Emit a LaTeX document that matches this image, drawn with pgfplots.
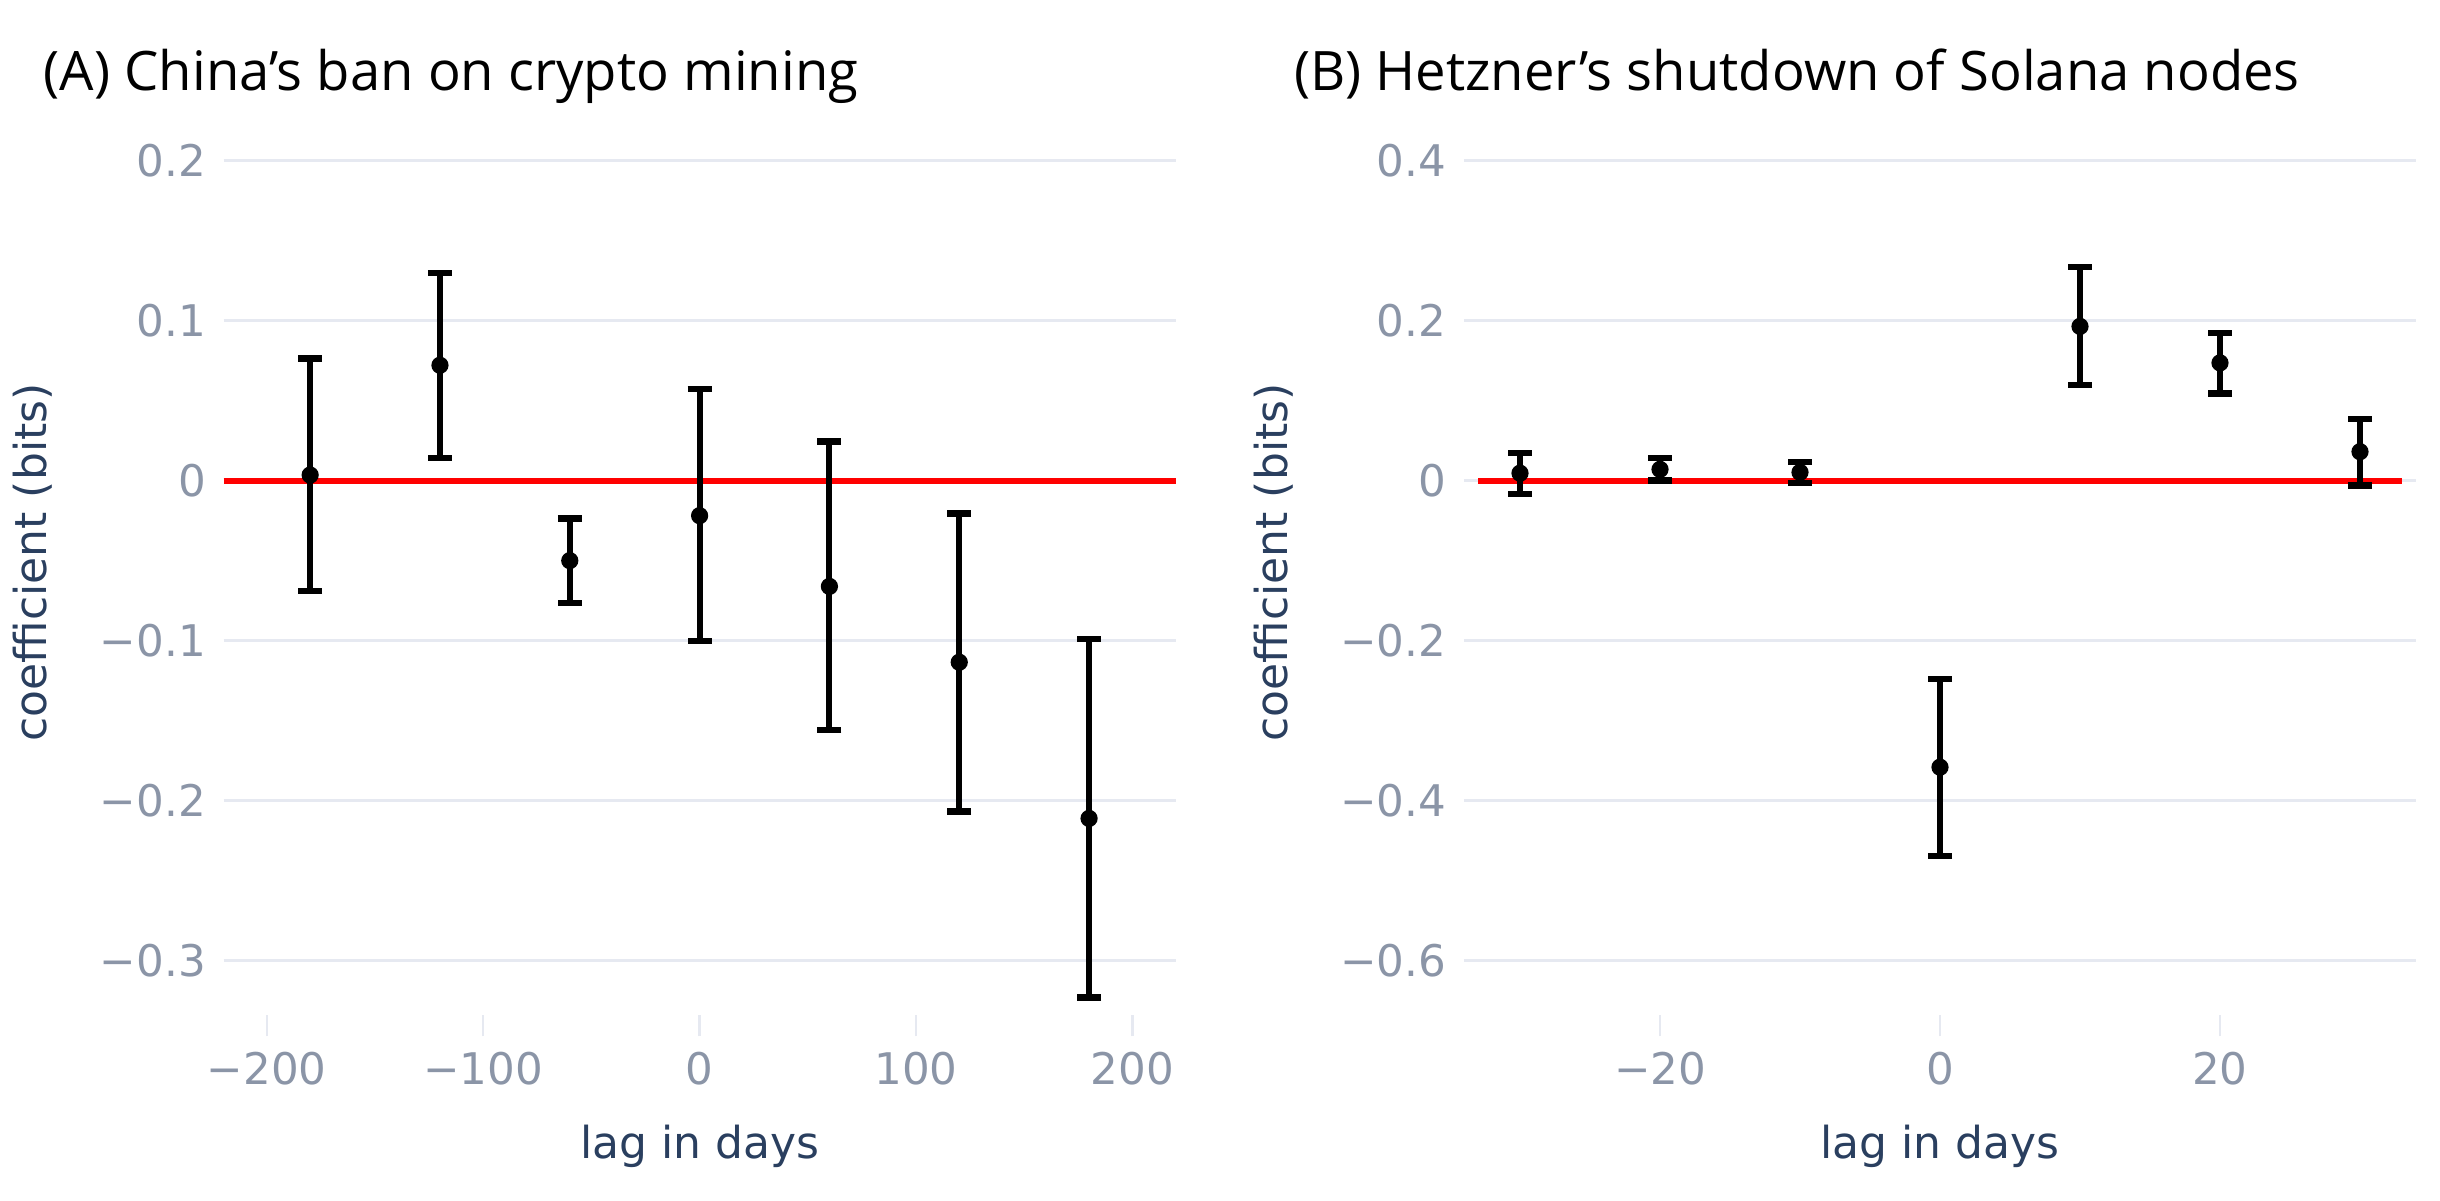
\documentclass[border=0pt]{standalone}
\usepackage{fontspec}
\setmainfont{DejaVu Sans}
\newfontfamily\titlefont{Open Sans}
\usepackage{pgfplots}
\pgfplotsset{compat=1.18}
\usepackage{pgfplotstable}
\definecolor{tickgrey}{HTML}{8B95A7}
\definecolor{labnavy}{HTML}{2A3F5F}
\definecolor{gridc}{HTML}{E6E9F1}

% x, coefficient, error plus, error minus
\pgfplotstableread{
x y ep em
-180 0.0036 0.0729 0.0726
-120 0.0722 0.0575 0.0578
-60 -0.0499 0.0264 0.0264
0 -0.0218 0.0791 0.0782
60 -0.0660 0.0905 0.0897
120 -0.1134 0.0930 0.0933
180 -0.2110 0.1122 0.1120
}\tblA
\pgfplotstableread{
x y ep em
-30 0.0095 0.0253 0.0261
-20 0.0143 0.0143 0.0139
-10 0.0106 0.0130 0.0136
0 -0.3580 0.1100 0.1110
10 0.1930 0.0740 0.0734
20 0.1474 0.0373 0.0384
30 0.0364 0.0411 0.0421
}\tblB

\pgfplotsset{
  panel/.style={
    scale only axis, width=238pt, height=226.4pt,
    anchor=south west,
    axis x line*=bottom, axis y line*=left,
    axis line style={draw=none},
    ymajorgrids, grid style={gridc, line width=0.75pt},
    tick align=outside, major tick length=5.3pt,
    xtick style={draw=gridc, line width=0.6pt},
    ytick style={draw=none},
    tick label style={font=\fontsize{10.9}{13}\selectfont, text=tickgrey},
    xticklabel style={anchor=base, yshift=-12pt},
    yticklabel style={anchor=east, xshift=4.4pt},
    label style={font=\fontsize{11}{13}\selectfont, text=labnavy},
    xlabel style={at={(rel axis cs:0.5,-0.1577)}, anchor=base},
    ylabel style={at={(rel axis cs:-0.2004,0.5)}, anchor=center, rotate=0},
    title style={font=\titlefont\fontsize{13.6}{16}\selectfont, text=black,
      anchor=base west, inner sep=0pt, yshift=-5pt},
    xlabel={lag in days}, ylabel={coefficient (bits)},
    clip=false,
  },
  ebar/.style={only marks, mark=*, mark size=1.95pt, black,
    mark options={fill=black, draw=black},
    error bars/.cd, y dir=both, y explicit,
    error bar style={line width=1.5pt, black},
    error mark options={rotate=90, mark size=3pt, line width=1.6pt, black}},
}

\begin{document}
\begin{tikzpicture}
\useasboundingbox (0,0) rectangle (610pt,300pt);
\begin{axis}[panel, at={(55.9pt,46.2pt)},
  xmin=-220, xmax=220, ymin=-0.334, ymax=0.232,
  xtick={-200,-100,0,100,200}, xticklabels={−200,−100,0,100,200},
  ytick={-0.3,-0.2,-0.1,0,0.1,0.2}, yticklabels={−0.3,−0.2,−0.1,0,0.1,0.2},
  title={(A) China’s ban on crypto mining},
  title style={at={(rel axis cs:-0.1896,1.0168)}},
]
\addplot[red, line width=1.4pt] coordinates {(-220,0) (220,0)};
\addplot[ebar] table[x=x, y=y, y error plus=ep, y error minus=em] {\tblA};
\end{axis}
\begin{axis}[panel, at={(366pt,46.2pt)},
  xmin=-34, xmax=34, ymin=-0.668, ymax=0.464,
  xtick={-20,0,20}, xticklabels={−20,0,20},
  ytick={-0.6,-0.4,-0.2,0,0.2,0.4}, yticklabels={−0.6,−0.4,−0.2,0,0.2,0.4},
  title={(B) Hetzner’s shutdown of Solana nodes},
  title style={at={(rel axis cs:-0.1794,1.0168)}},
]
\addplot[red, line width=1.4pt] coordinates {(-33,0) (33,0)};
\addplot[ebar] table[x=x, y=y, y error plus=ep, y error minus=em] {\tblB};
\end{axis}
\end{tikzpicture}
\end{document}
